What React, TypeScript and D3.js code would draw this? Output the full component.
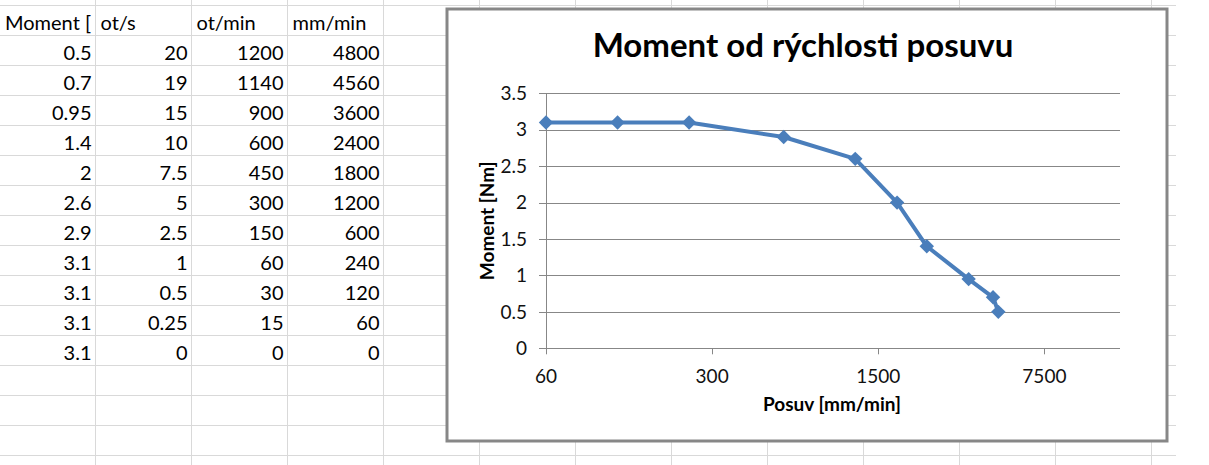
import React from "react";
import * as d3 from "d3";

// ---- data (from the sheet) ----
const headers = ["Moment [", "ot/s", "ot/min", "mm/min"];
const moment = [0.5, 0.7, 0.95, 1.4, 2, 2.6, 2.9, 3.1, 3.1, 3.1, 3.1];
const otS = [20, 19, 15, 10, 7.5, 5, 2.5, 1, 0.5, 0.25, 0];
const otMin = [1200, 1140, 900, 600, 450, 300, 150, 60, 30, 15, 0];
const mmMin = [4800, 4560, 3600, 2400, 1800, 1200, 600, 240, 120, 60, 0];

const chartTitle = "Moment od rýchlosti posuvu";
const xTitle = "Posuv [mm/min]";
const yTitle = "Moment [Nm]";
const xTicks = [60, 300, 1500, 7500];
const yTicks = [0, 0.5, 1, 1.5, 2, 2.5, 3, 3.5];
const xDomain = [60, 15600];
const yDomain = [0, 3.5];

const W = 1209;
const H = 465;
const FONT = "Lato, 'Open Sans', sans-serif";

export default function App() {
  // spreadsheet grid
  const rowH = 30;
  const row0 = 5.5;
  const colW = 96;
  const col0 = 95.5;
  const gridRight = 1176;
  const hLines = d3.range(0, 16).map((i) => row0 + i * rowH).filter((y) => y < H);
  const vLines = d3.range(0, 12).map((i) => col0 + i * colW).filter((x) => x < gridRight);
  const colLeft = [0, 95.5, 191.5, 287.5];
  const colRight = [95.5, 191.5, 287.5, 383.5];

  const columns = [moment, otS, otMin, mmMin];

  // chart
  const box = { x: 447, y: 9, w: 720, h: 432 };
  const plot = { l: 546, r: 1120, t: 93.3, b: 348.3 };
  const x = d3.scaleLog().base(5).domain(xDomain).range([plot.l, plot.r]);
  const y = d3.scaleLinear().domain(yDomain).range([plot.b, plot.t]);

  const pts = mmMin
    .map((v, i) => ({ x: v, y: moment[i] }))
    .filter((p) => p.x > 0);
  const line = d3
    .line<{ x: number; y: number }>()
    .x((d) => x(d.x))
    .y((d) => y(d.y));

  const blue = "#4a7ebb";
  const gridGray = "#878787";
  const m = 7.2;

  return (
    <svg
      width={W}
      height={H}
      style={{ position: "absolute", left: 0, top: 0, background: "#fff" }}
      fontFamily={FONT}
    >
      <defs>
        {colLeft.map((l, i) => (
          <clipPath id={"col" + i} key={i}>
            <rect x={l} y={0} width={colRight[i] - l - 1} height={H} />
          </clipPath>
        ))}
      </defs>
      <rect x={0} y={0} width={W} height={H} fill="#fff" />
      {/* sheet gridlines */}
      {hLines.map((yy, i) => (
        <line key={"h" + i} x1={0} x2={gridRight} y1={yy} y2={yy} stroke="#d9d9d9" strokeWidth={1} />
      ))}
      {vLines.map((xx, i) => (
        <line key={"v" + i} x1={xx} x2={xx} y1={0} y2={H} stroke="#d9d9d9" strokeWidth={1} />
      ))}
      {/* header row */}
      {headers.map((h, i) => (
        <text
          key={"hd" + i}
          x={colLeft[i] + 5}
          y={row0 + rowH - 6}
          fontSize={20}
          fill="#000"
          clipPath={`url(#col${i})`}
        >
          {h}
        </text>
      ))}
      {/* data rows */}
      {columns.map((col, ci) =>
        col.map((v, ri) => (
          <text
            key={`c${ci}-${ri}`}
            x={colRight[ci] - 4}
            y={row0 + (ri + 2) * rowH - 6}
            fontSize={20}
            textAnchor="end"
            fill="#000"
          >
            {String(v)}
          </text>
        ))
      )}

      {/* chart box */}
      <rect x={box.x} y={box.y} width={box.w} height={box.h} fill="#fff" stroke="#878787" strokeWidth={3} />

      {/* title */}
      <text x={803} y={57} textAnchor="middle" fontSize={33} fontWeight="bold" fill="#000">
        {chartTitle}
      </text>

      {/* horizontal gridlines + y ticks */}
      {yTicks.map((t) => (
        <g key={"yt" + t}>
          <line x1={plot.l - 7} x2={plot.r} y1={Math.round(y(t)) + 0.5} y2={Math.round(y(t)) + 0.5} stroke={gridGray} strokeWidth={1} />
          <text x={527} y={y(t)} dy="0.35em" textAnchor="end" fontSize={19} fill="#111">
            {String(t)}
          </text>
        </g>
      ))}
      {/* y axis line */}
      <line x1={plot.l + 0.5} x2={plot.l + 0.5} y1={plot.t} y2={plot.b + 5} stroke={gridGray} strokeWidth={1} />
      {/* x ticks */}
      {xTicks.map((t) => (
        <g key={"xt" + t}>
          <line x1={Math.round(x(t)) + 0.5} x2={Math.round(x(t)) + 0.5} y1={plot.b} y2={plot.b + 6} stroke={gridGray} strokeWidth={1} />
          <text x={x(t)} y={383} textAnchor="middle" fontSize={19} fill="#111">
            {String(t)}
          </text>
        </g>
      ))}

      {/* axis titles */}
      <text x={832} y={411} textAnchor="middle" fontSize={19} fontWeight="bold" fill="#000">
        {xTitle}
      </text>
      <text
        transform={`translate(487,${(plot.t + plot.b) / 2}) rotate(-90)`}
        dy="0.35em"
        textAnchor="middle"
        fontSize={19}
        fontWeight="bold"
        fill="#000"
      >
        {yTitle}
      </text>

      {/* series */}
      <path d={line(pts) || ""} fill="none" stroke={blue} strokeWidth={4} strokeLinejoin="round" />
      {pts.map((p, i) => (
        <path
          key={"mk" + i}
          d={`M${x(p.x)},${y(p.y) - m}L${x(p.x) + m},${y(p.y)}L${x(p.x)},${y(p.y) + m}L${x(p.x) - m},${y(p.y)}Z`}
          fill={blue}
        />
      ))}
    </svg>
  );
}
